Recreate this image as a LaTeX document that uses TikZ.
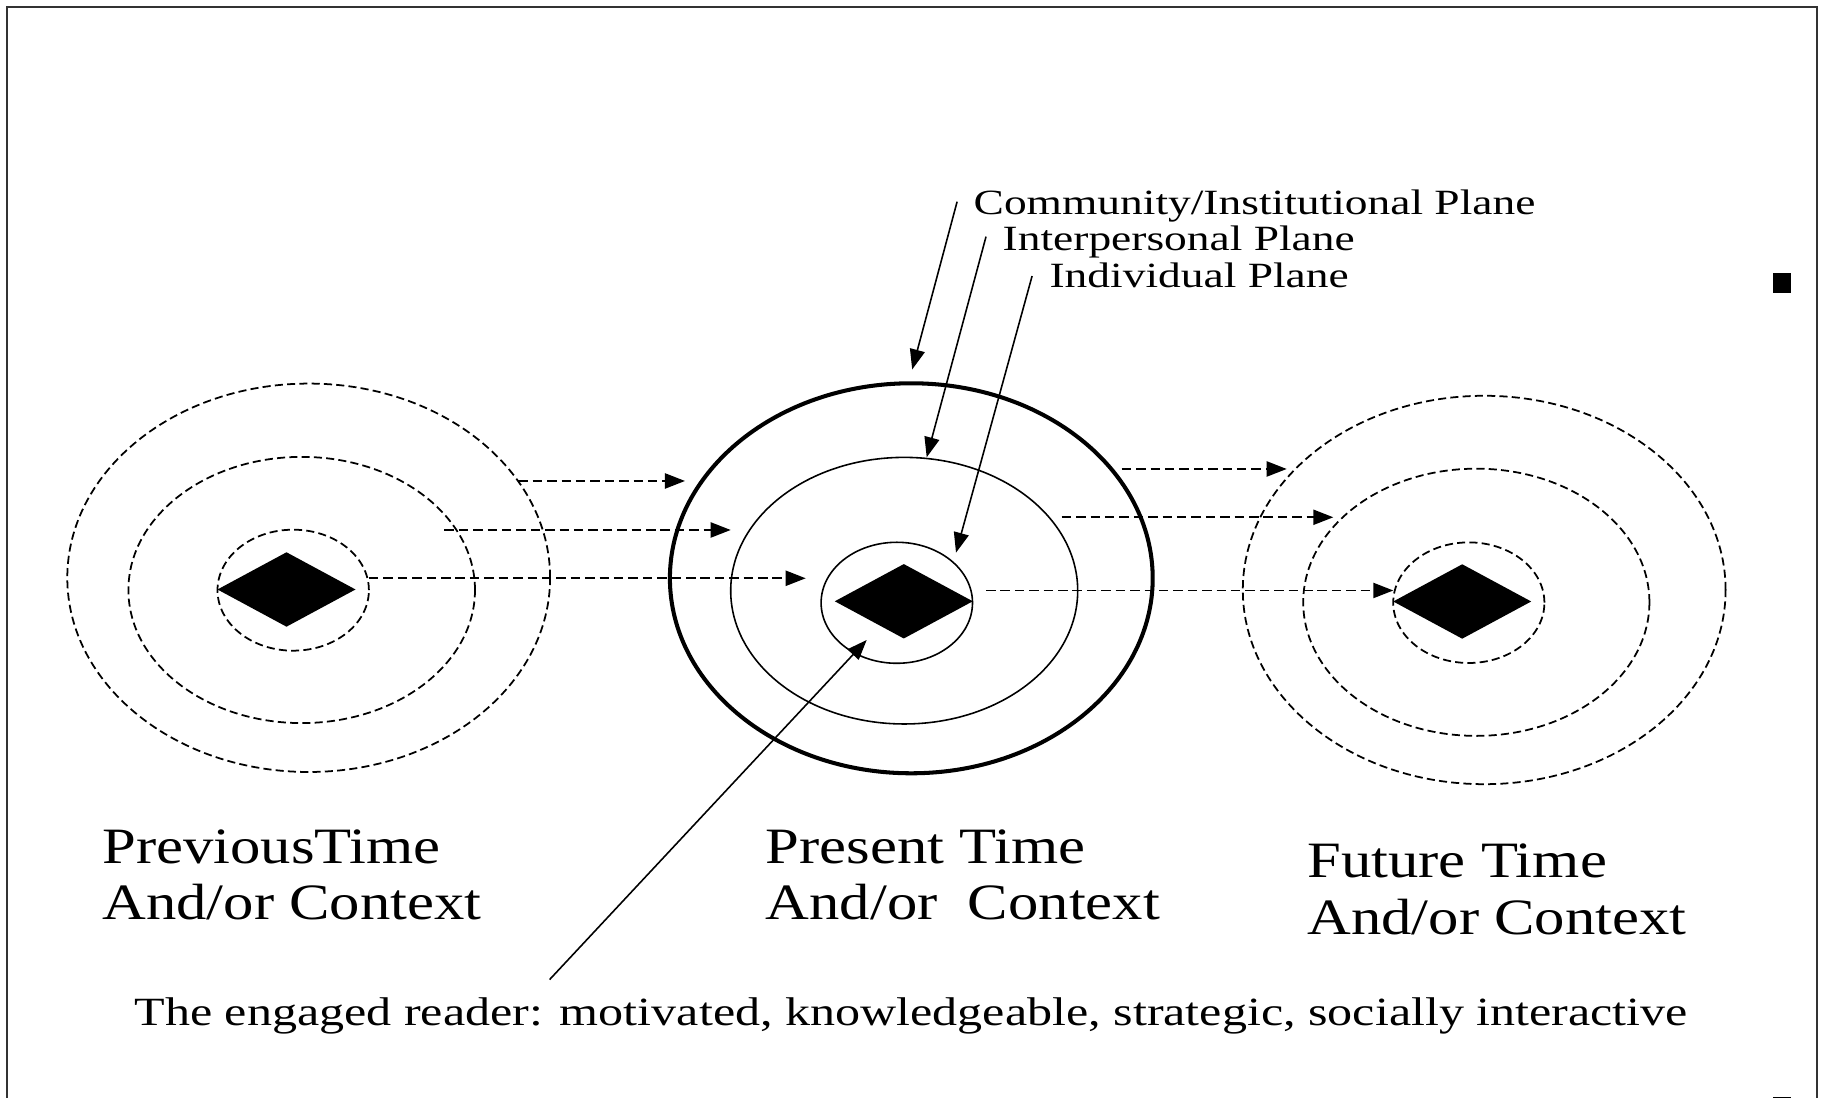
\documentclass[tikz,border=0pt]{standalone}
\usepackage{fontspec}
\setmainfont{Liberation Serif}
\usetikzlibrary{arrows.meta,shapes.geometric}

\tikzset{
  ring/.style={line width=0.45pt},
  outerring/.style={line width=1.15pt},
  faintring/.style={line width=0.5pt, dash pattern=on 2.3pt off 1.2pt},
  flow/.style={line width=0.55pt, dash pattern=on 2.7pt off 1.4pt, -{Triangle[length=5.7pt,width=4.3pt]}},
  pointer/.style={line width=0.45pt, -{Triangle[length=5.7pt,width=4.3pt]}},
  reader/.style={diamond, fill=black, inner sep=0pt, outer sep=0pt, minimum width=1.38cm, minimum height=0.744cm},
  timetext/.style={anchor=base west, inner sep=0pt, align=left, xscale=1.19, font=\fontsize{14.5}{16.1}\selectfont},
  planetext/.style={anchor=base west, inner sep=0pt, xscale=1.28, font=\fontsize{10.1}{12}\selectfont},
  captiontext/.style={anchor=base west, inner sep=0pt, xscale=1.25, font=\fontsize{11.4}{13}\selectfont},
}

\begin{document}
\begin{tikzpicture}
    \useasboundingbox (0,0) rectangle (18.22,10.98);

    % page frame, runs on below the bottom edge
    \draw[line width=0.5pt, black!80] (0.07,-0.5) -- (0.07,10.91) -- (18.17,10.91) -- (18.17,-0.5);
    \fill (17.73,8.05) rectangle (17.91,8.25);
    \fill (17.73,0.01) rectangle (17.91,-0.3);

    % previous time, dashed planes
    \draw[faintring] (3.087,5.202) ellipse (2.414 and 1.942);
    \draw[faintring] (3.017,5.080) ellipse (1.733 and 1.331);
    \draw[faintring] (2.932,5.078) ellipse (0.757 and 0.605);
    \node[reader] (prevreader) at (2.865,5.085) {};

    % present time, solid planes
    \draw[outerring] (9.113,5.197) ellipse (2.414 and 1.950);
    \draw[ring] (9.042,5.073) ellipse (1.735 and 1.333);
    \draw[ring] (8.968,4.952) ellipse (0.757 and 0.605);
    \node[reader] (presreader) at (9.038,4.967) {};

    % future time, dashed planes
    \draw[faintring] (14.842,5.080) ellipse (2.414 and 1.942);
    \draw[faintring] (14.763,4.957) ellipse (1.731 and 1.336);
    \draw[faintring] (14.688,4.953) ellipse (0.756 and 0.603);
    \node[reader] (futreader) at (14.622,4.965) {};

    % carried over from one time to the next
    \coordinate (prevout1) at (5.183,6.170);
    \coordinate (prevout2) at (4.443,5.680);
    \coordinate (prevout3) at (3.690,5.197);
    \coordinate (presin1) at (6.850,6.170);
    \coordinate (presin2) at (7.307,5.680);
    \coordinate (presin3) at (8.057,5.197);
    \coordinate (presout1) at (11.217,6.290);
    \coordinate (presout2) at (10.617,5.807);
    \coordinate (presout3) at (9.860,5.075);
    \coordinate (futin1) at (12.867,6.290);
    \coordinate (futin2) at (13.333,5.807);
    \coordinate (futin3) at (13.933,5.075);

    \draw[flow] (prevout1) -- (presin1);
    \draw[flow] (prevout2) -- (presin2);
    \draw[flow] (prevout3) -- (presin3);
    \draw[flow] (presout1) -- (futin1);
    \draw[flow] (presout2) -- (futin2);
    \draw[flow] (presout3) -- (futin3);

    % names of the planes
    \node[planetext] (community) at (9.728,8.837) {Community/Institutional Plane};
    \node[planetext] (interpersonal) at (10.018,8.475) {Interpersonal Plane};
    \node[planetext] (individual) at (10.487,8.107) {Individual Plane};

    \coordinate (communityfoot) at (9.571,8.963);
    \coordinate (interpersonalfoot) at (9.860,8.613);
    \coordinate (individualfoot) at (10.321,8.220);
    \coordinate (communityring) at (9.122,7.285);
    \coordinate (interpersonalring) at (9.267,6.407);
    \coordinate (individualring) at (9.560,5.453);

    \draw[pointer] (communityfoot) -- (communityring);
    \draw[pointer] (interpersonalfoot) -- (interpersonalring);
    \draw[pointer] (individualfoot) -- (individualring);

    % times (anchored on the second line)
    \node[timetext] (prevtime) at (1.017,1.780) {PreviousTime\\And/or Context};
    \node[timetext] (prestime) at (7.650,1.780) {Present Time\\And/or~~Context};
    \node[timetext] (futtime) at (13.067,1.635) {Future Time\\And/or Context};

    % the reader
    \node[captiontext] (caption) at (1.336,0.725) {The engaged reader: motivated, knowledgeable, strategic, socially interactive};
    \coordinate (captionfoot) at (5.496,1.184);
    \coordinate (readertip) at (8.667,4.580);
    \draw[pointer] (captionfoot) -- (readertip);
\end{tikzpicture}
\end{document}
